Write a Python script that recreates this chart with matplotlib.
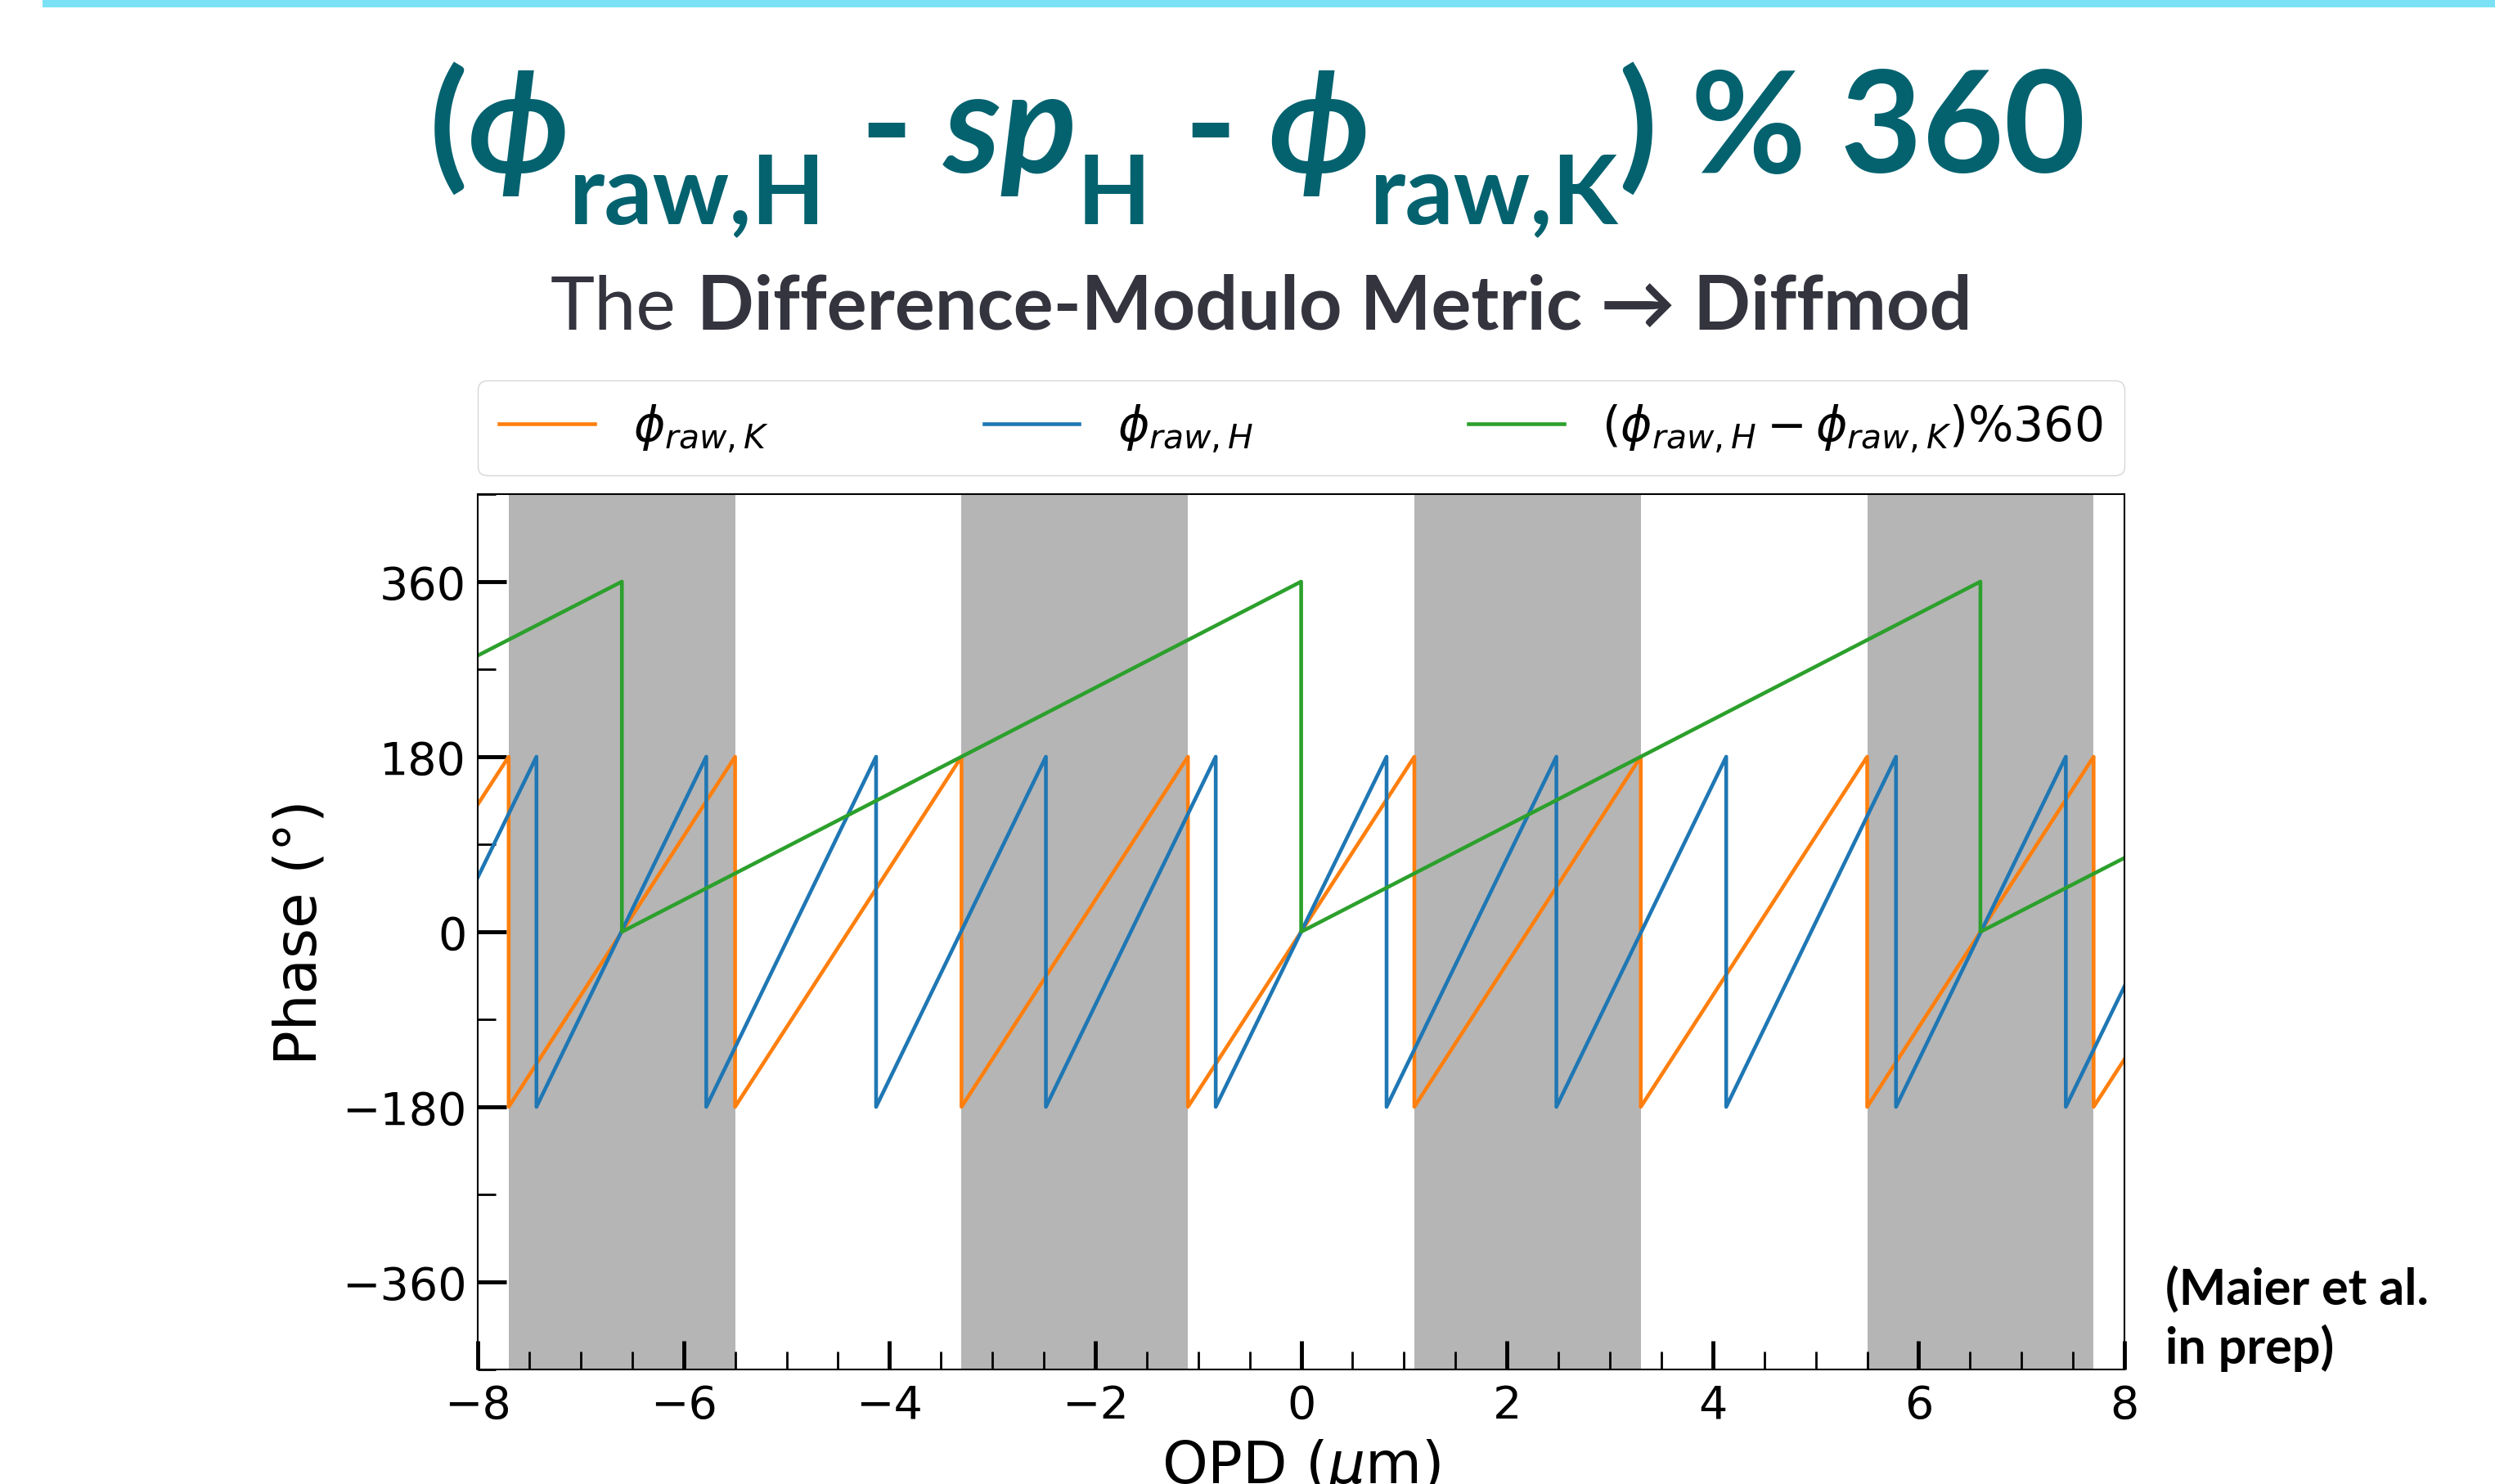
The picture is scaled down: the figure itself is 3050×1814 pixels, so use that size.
import matplotlib.pyplot as plt
from matplotlib.patches import Rectangle
from matplotlib.ticker import MultipleLocator

# sawtooth vertices (OPD in micron, phase in deg)
opd_k = [-8, -7.7, -7.7, -5.5, -5.5, -3.3, -3.3, -1.1, -1.1, 1.1, 1.1,
         3.3, 3.3, 5.5, 5.5, 7.7, 7.7, 8]
phase_k = [131, 180, -180, 180, -180, 180, -180, 180, -180, 180, -180,
           180, -180, 180, -180, 180, -180, -131]

opd_h = [-8, -7.43, -7.43, -5.78, -5.78, -4.13, -4.13, -2.48, -2.48,
         -0.83, -0.83, 0.83, 0.83, 2.48, 2.48, 4.13, 4.13, 5.78, 5.78,
         7.43, 7.43, 8]
phase_h = [56, 180, -180, 180, -180, 180, -180, 180, -180, 180, -180,
           180, -180, 180, -180, 180, -180, 180, -180, 180, -180, -56]

opd_d = [-8, -6.6, -6.6, 0, 0, 6.6, 6.6, 8]
phase_d = [284, 360, 0, 360, 0, 360, 0, 76]

# grey bands
shade_lo = [-7.7, -3.3, 1.1, 5.5]
shade_hi = [-5.5, -1.1, 3.3, 7.7]

# title pieces: (text, is_subscript, is_italic)
title_parts = [('(', False, False), ('\u03d5', False, True), ('raw,H', True, False),
               (' -', False, False), (' sp', False, True), ('H', True, False),
               (' -', False, False), (' \u03d5', False, True), ('raw,K', True, False),
               (')', False, False), (' %', False, False), (' 360', False, False)]

fam = ['Lato', 'DejaVu Sans']
teal = '#04626f'
sub_col = '#34343f'

fig = plt.figure(figsize=(30.5, 18.15), dpi=100)

# cyan strip on top of the slide
fig.patches.append(Rectangle((0.017, 0.9945), 0.983, 0.0055,
                             transform=fig.transFigure, color='#7be2f6', lw=0))

# title built piece by piece so the subscripts sit low like on the slide
base_y = 0.884
sub_drop = 63 / 1815
pieces = []
for txt, is_sub, is_it in title_parts:
    t = fig.text(0, base_y - sub_drop if is_sub else base_y, txt,
                 fontsize=84 if is_sub else 124, weight='bold',
                 style='italic' if is_it else 'normal', family=fam,
                 color=teal, ha='left', va='baseline')
    pieces.append(t)
renderer = fig.canvas.get_renderer()
widths = [t.get_window_extent(renderer).width / fig.bbox.width for t in pieces]
x = 0.504 - sum(widths) / 2
for t, w in zip(pieces, widths):
    t.set_x(x)
    x += w

fig.text(0.2711, 0.778, 'The', ha='right', va='baseline', fontsize=66,
         color=sub_col, family=fam)
fig.text(0.2793, 0.778, 'Difference-Modulo Metric \u2192 Diffmod', ha='left',
         va='baseline', fontsize=66, color=sub_col, weight='bold', family=fam)

fig.text(0.868, 0.148, '(Maier et al.\nin prep)', ha='left', va='top',
         fontsize=44, weight='bold', family='Lato', linespacing=1.3)

ax = fig.add_axes([0.1915, 0.0771, 0.66, 0.5896])
for lo, hi in zip(shade_lo, shade_hi):
    ax.axvspan(lo, hi, color='#b5b5b5', lw=0, zorder=0)

ax.plot(opd_k, phase_k, color='tab:orange', lw=3.3, label=r'$\phi_{raw,K}$')
ax.plot(opd_h, phase_h, color='tab:blue', lw=3.3, label=r'$\phi_{raw,H}$')
ax.plot(opd_d, phase_d, color='tab:green', lw=3.3,
        label=r'$(\phi_{raw,H} - \phi_{raw,K})$%360')

ax.set_xlim(-8, 8)
ax.set_ylim(-450, 450)
ax.xaxis.set_major_locator(MultipleLocator(2))
ax.xaxis.set_minor_locator(MultipleLocator(0.5))
ax.yaxis.set_major_locator(MultipleLocator(180))
ax.yaxis.set_minor_locator(MultipleLocator(90))
ax.tick_params(which='major', direction='in', length=25, width=3.5,
               labelsize=40, top=False, right=False)
ax.tick_params(which='minor', direction='in', length=16, width=2,
               top=False, right=False)
ax.tick_params(axis='y', which='major', pad=10)
ax.tick_params(axis='x', which='major', pad=12)
for sp in ax.spines.values():
    sp.set_linewidth(1.5)

ax.set_xlabel(r'OPD ($\mu$m)', fontsize=51, labelpad=8)
ax.set_ylabel('Phase (°)', fontsize=51, labelpad=12)

ax.legend(loc='lower left', bbox_to_anchor=(0, 1.021, 1, 0.1), mode='expand',
          ncol=3, borderaxespad=0, fontsize=42, borderpad=0.45)

fig.savefig('out.png')
